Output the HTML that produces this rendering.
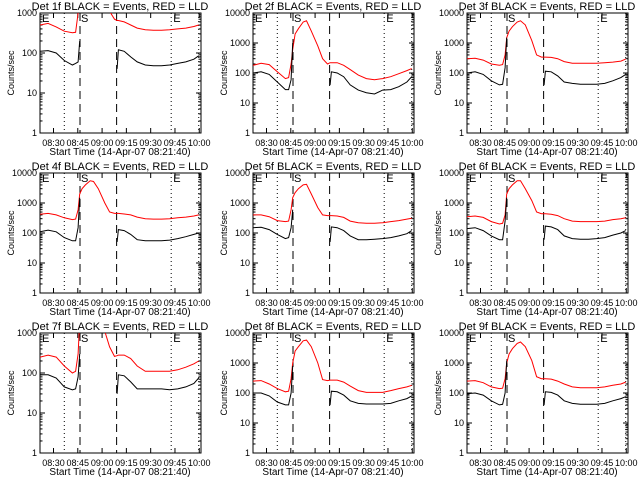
<!DOCTYPE html>
<html><head><meta charset="utf-8"><style>
body{margin:0;background:#fff}
svg{display:block;font-family:"Liberation Sans",sans-serif}
</style></head><body>
<svg id="chart" width="640" height="480" viewBox="0 0 640 480"><rect width="640" height="480" fill="#fff"/></svg>
<script>
const times=[0,5,10,15,20,22,23.5,24.5,26,28,31,33,36,40,43,46,47.6,48.4,52,56,60,65,70,75,80,85,90,95,98];
const N=null;
const detNames=["1f","2f","3f","4f","5f","6f","7f","8f","9f"];
const decades=[3,4,4,4,4,4,3,4,4];
const red1=[500,550,450,350,320,330,1000,5000,8000,8000,8000,8000,8000,8000,1100,700,650,650,600,500,420,380,370,370,380,400,420,460,500];
const black1=[110,115,100,65,50,55,60,200,N,N,N,N,N,N,N,N,40,120,110,80,60,50,48,48,50,55,60,70,85];
const red2=[180,210,190,110,65,70,200,600,2000,3000,5000,5500,2500,800,300,200,220,220,220,180,130,85,65,60,65,75,95,120,140];
const black2=[100,110,90,50,28,28,60,1000,N,N,N,N,N,N,N,N,40,110,100,75,40,27,22,20,27,28,35,50,75];
const red3=[300,310,270,200,180,190,400,1500,2500,3500,5000,5500,4000,1200,400,340,340,340,330,300,240,210,210,210,210,220,230,250,290];
const black3=[100,110,90,55,40,42,150,1500,N,N,N,N,N,N,N,N,40,115,110,80,50,45,42,42,42,45,55,70,90];
const red4=[420,450,400,320,280,290,600,2000,3000,4000,5500,5200,3000,1000,500,450,450,450,430,400,340,300,290,290,300,320,340,370,400];
const black4=[110,125,110,70,55,55,150,1500,N,N,N,N,N,N,N,N,50,130,120,90,60,55,55,55,58,65,75,90,100];
const red5=[400,400,350,260,240,250,600,1500,2200,3000,4000,4200,2000,700,400,380,380,380,370,330,250,220,210,210,220,240,260,290,310];
const black5=[150,155,130,90,65,70,150,600,N,N,N,N,N,N,N,N,50,160,150,120,80,60,60,62,65,70,80,95,120];
const red6=[350,370,330,240,200,210,400,2000,3000,4000,5500,5500,3000,1200,500,440,440,440,420,380,300,250,240,240,240,250,280,300,320];
const black6=[140,150,120,80,60,60,250,1500,N,N,N,N,N,N,N,N,60,170,160,130,80,65,62,62,65,70,85,100,120];
const red7=[250,280,250,150,100,110,300,2000,8000,8000,8000,8000,8000,1100,450,260,270,280,280,230,150,110,110,110,110,120,140,170,200];
const black7=[90,90,75,45,38,40,80,300,N,N,N,N,N,N,N,N,30,90,85,60,40,40,40,40,38,40,45,55,75];
const red8=[250,260,200,140,110,115,300,1000,2500,3500,5500,5800,3500,1000,280,260,270,270,270,230,170,120,105,105,105,120,140,160,180];
const black8=[100,100,80,50,40,40,100,800,N,N,N,N,N,N,N,N,40,115,110,85,55,45,43,43,43,45,55,65,80];
const red9=[250,260,220,160,140,145,300,1000,2000,3000,4500,5000,3500,1200,350,300,300,300,290,250,200,160,150,150,150,160,180,200,230];
const black9=[95,100,85,55,40,42,100,1200,N,N,N,N,N,N,N,N,40,110,105,85,55,45,42,42,42,45,55,65,75];
const reds=[red1,red2,red3,red4,red5,red6,red7,red8,red9];
const blacks=[black1,black2,black3,black4,black5,black6,black7,black8,black9];
const tickTimes=[8.33,23.33,38.33,53.33,68.33,83.33,98.33];
const tickLabels=["08:30","08:45","09:00","09:15","09:30","09:45","10:00"];
const dottedTimes=[15,81,98];
const dashedTimes=[24.7,47.3];

const NS="http://www.w3.org/2000/svg";
const svg=document.getElementById('chart');
function mk(tag,attrs,parent){const e=document.createElementNS(NS,tag);for(const k in attrs)e.setAttribute(k,attrs[k]);parent.appendChild(e);return e;}
const L=40,R=201,T=13,B=133,TMAX=99.4;

for(let p=0;p<9;p++){
  const ox=[0,213,427][p%3], oy=[0,160,320][Math.floor(p/3)];
  const dec=decades[p];
  const g=mk('g',{transform:`translate(${ox},${oy})`},svg);
  
  
  const xs=t=>L+t/TMAX*(R-L);
  const ys=v=>B-Math.log10(v)/dec*(B-T);
  const cp=mk('clipPath',{id:'c'+p},g);mk('rect',{x:L,y:T,width:R-L,height:B-T},cp);
  const ti=mk('text',{x:120,y:10,'text-anchor':'middle','font-size':11},g);
  ti.textContent=`Det ${detNames[p]} BLACK = Events, RED = LLD`;
  
  const fr=mk('rect',{x:L,y:T,width:R-L,height:B-T,fill:'none',stroke:'#000','stroke-width':1},g);
  
  for(let d=0;d<=dec;d++){
    const y=ys(Math.pow(10,d));
    mk('line',{x1:L,x2:L+5,y1:y,y2:y,stroke:'#000'},g);
    mk('line',{x1:R-5,x2:R,y1:y,y2:y,stroke:'#000'},g);
    const lb=mk('text',{x:L-3,y:y+3,'text-anchor':'end','font-size':9},g);
    lb.textContent=String(Math.pow(10,d));
    
    if(d<dec)for(let m=2;m<10;m++){const ym=ys(m*Math.pow(10,d));
      mk('line',{x1:L,x2:L+2.5,y1:ym,y2:ym,stroke:'#000'},g);mk('line',{x1:R-2.5,x2:R,y1:ym,y2:ym,stroke:'#000'},g);}
  }
  tickTimes.forEach((t,i)=>{const x=xs(t);
    mk('line',{x1:x,x2:x,y1:B,y2:B-5,stroke:'#000'},g);mk('line',{x1:x,x2:x,y1:T,y2:T+5,stroke:'#000'},g);
    const lb=mk('text',{x:x,y:146,'text-anchor':'middle','font-size':9},g);lb.textContent=tickLabels[i];
    });
  const xl=mk('text',{x:120,y:155,'text-anchor':'middle','font-size':10},g);xl.textContent='Start Time (14-Apr-07 08:21:40)';
  
  const yl=mk('text',{x:0,y:0,'text-anchor':'middle','font-size':9,transform:`translate(14,73) rotate(-90)`},g);yl.textContent='Counts/sec';
  
  dottedTimes.forEach(t=>{const l=mk('line',{x1:xs(t),x2:xs(t),y1:T,y2:B,stroke:'#000','stroke-dasharray':'1,3'},g);
    });
  dashedTimes.forEach(t=>{const l=mk('line',{x1:xs(t),x2:xs(t),y1:T,y2:B,stroke:'#000','stroke-dasharray':'8,5'},g);
    });
  [['E',L+2],['S',xs(24.7)+1],['E',xs(81)+2]].forEach(([s,x])=>{const t=mk('text',{x:x,y:T+9,'font-size':11},g);t.textContent=s;
    });
  function path(vals){let d='',pen=false;vals.forEach((v,i)=>{if(v==null){pen=false;return;}
      d+=(pen?'L':'M')+xs(times[i]).toFixed(1)+' '+ys(v).toFixed(1);pen=true;});return d;}
  const rp=mk('path',{d:path(reds[p]),fill:'none',stroke:'#f00','stroke-width':1,'clip-path':`url(#c${p})`},g);
  
  const bp=mk('path',{d:path(blacks[p]),fill:'none',stroke:'#000','stroke-width':1,'clip-path':`url(#c${p})`},g);
  
}
</script>
</body></html>
